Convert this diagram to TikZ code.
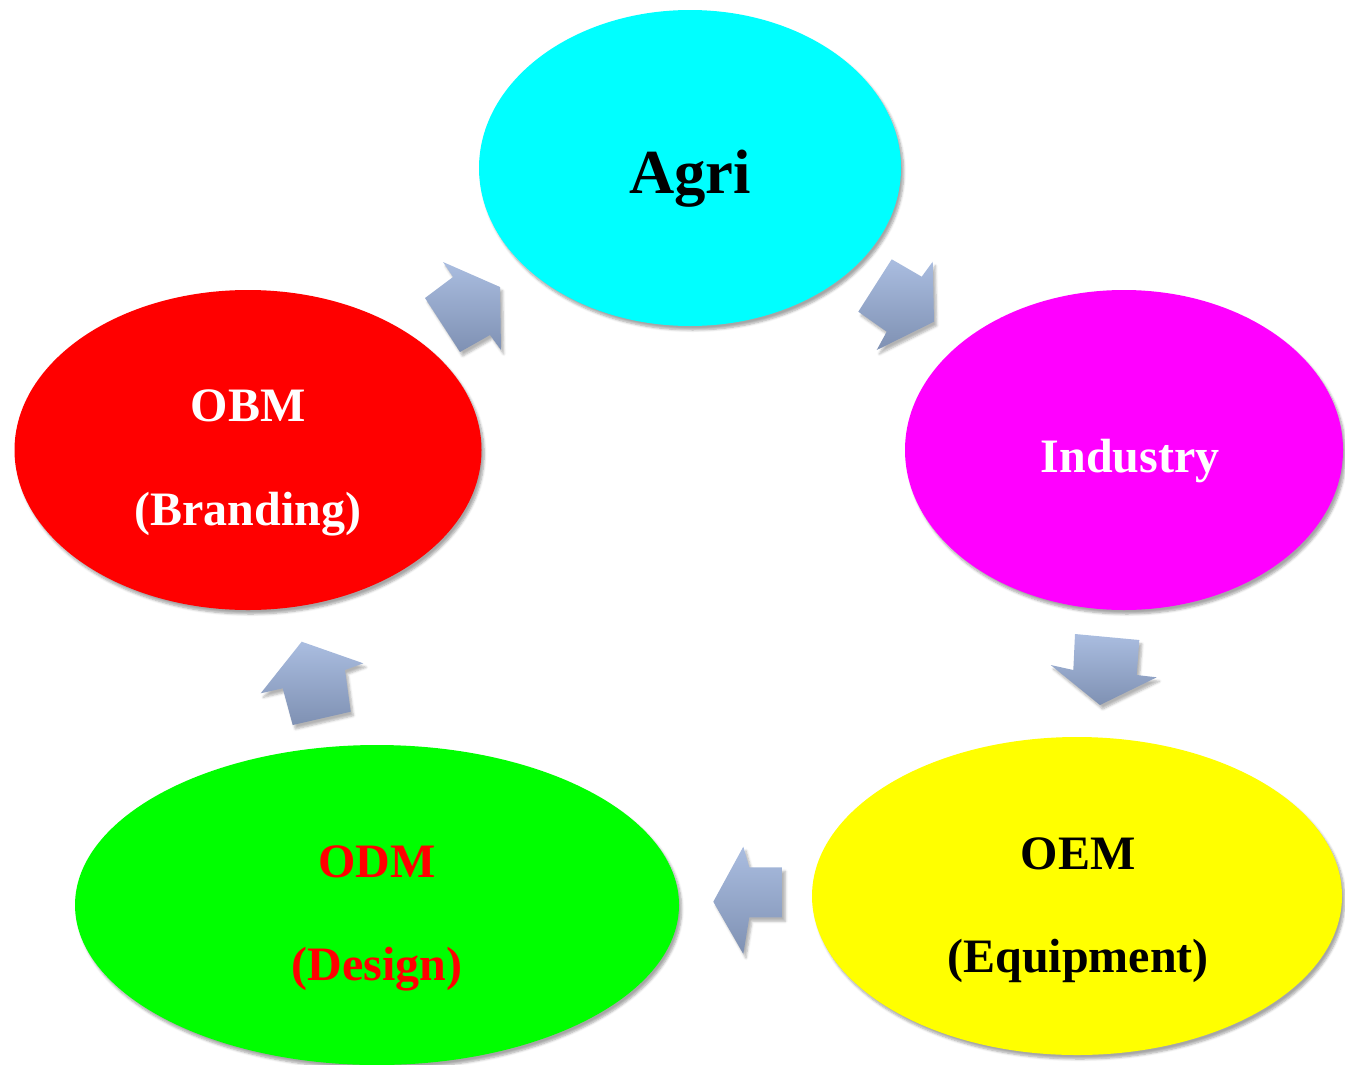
\documentclass[tikz,border=0pt]{standalone}
\usepackage{fontspec}
\setmainfont{Liberation Serif}
\usetikzlibrary{shapes.geometric,shadows.blur}
\tikzset{
  bub/.style={ellipse, inner sep=0pt, outer sep=0pt, draw=none,
    blur shadow={shadow xshift=2pt, shadow yshift=-3pt, shadow blur steps=6, shadow opacity=35}},
  lbl/.style={font=\bfseries\fontsize{36}{40}\selectfont, inner sep=0pt},
  blockarrow/.style={top color=arrtop, bottom color=arrbot, draw=none,
    blur shadow={shadow xshift=2pt, shadow yshift=-3pt, shadow blur steps=5, shadow opacity=30}}
}
\definecolor{arrtop}{HTML}{AABDE0}
\definecolor{arrbot}{HTML}{7F91B3}
\begin{document}
\begin{tikzpicture}[x=0.75pt,y=-0.75pt]
\useasboundingbox (0,0) rectangle (1345,1064);
% bubbles
\node[bub, fill={rgb,255:red,0;green,255;blue,255}, minimum width=422*0.75pt, minimum height=316*0.75pt] (agri) at (690,168) {};
\node[bub, fill={rgb,255:red,255;green,0;blue,255}, minimum width=438*0.75pt, minimum height=320*0.75pt] (ind) at (1124,450) {};
\node[bub, fill={rgb,255:red,255;green,0;blue,0}, minimum width=467*0.75pt, minimum height=320*0.75pt] (obm) at (248,450) {};
\node[bub, fill={rgb,255:red,0;green,255;blue,0}, minimum width=604*0.75pt, minimum height=320*0.75pt] (odm) at (377,905) {};
\node[bub, fill={rgb,255:red,255;green,255;blue,0}, minimum width=530*0.75pt, minimum height=318*0.75pt] (oem) at (1077,896) {};
% labels
\node[lbl, font=\bfseries\fontsize{47}{50}\selectfont] (tagri) at (690,179) {Agri};
\node[lbl, text=white] (tind) at (1130,461) {Industry};
\node[lbl, text=white] (tobm1) at (248,406) {OBM};
\node[lbl, text=white] (tobm2) at (248,514) {(Branding)};
\node[lbl, text=red] (todm1) at (377,862) {ODM};
\node[lbl, text=red] (todm2) at (377,969) {(Design)};
\node[lbl] (toem1) at (1078,854) {OEM};
\node[lbl] (toem2) at (1078,961) {(Equipment)};
% block arrows
\path[blockarrow] (443,262) -- (500,287) -- (501,350) -- (490,335) -- (460,352) -- (425,298) -- (453,277) -- cycle;
\path[blockarrow] (891.7,259.3) -- (921.7,276.7) -- (932.7,261.7) -- (934,321.7) -- (876.7,350) -- (886.7,331.7) -- (858.3,311.7) -- cycle;
\path[blockarrow] (1075,634) -- (1139.3,640) -- (1136.7,675) -- (1156.7,677.3) -- (1100,705) -- (1050.7,665) -- (1073.3,670) -- cycle;
\path[blockarrow] (782.7,867.3) -- (782.7,917.3) -- (749.3,917.3) -- (743.3,954) -- (713.3,901.7) -- (743.3,846.7) -- (749.3,867.3) -- cycle;
\path[blockarrow] (301.7,641.7) -- (363.3,663.3) -- (345,670) -- (350.7,711.7) -- (292.7,725) -- (282.7,688.3) -- (260.7,693.3) -- cycle;
\end{tikzpicture}
\end{document}
